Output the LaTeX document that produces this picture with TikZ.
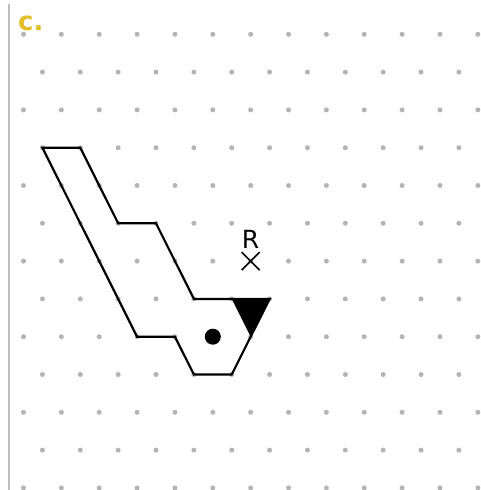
\documentclass[tikz,border=0pt]{standalone}
\usepackage{fontspec}
\setmainfont{DejaVu Sans}
\definecolor{griddot}{RGB}{180,180,180}
\definecolor{rulegray}{RGB}{190,190,190}
\definecolor{labelgold}{RGB}{228,189,43}
\tikzset{
  gdot/.style={fill=griddot, draw=none},
  outline/.style={draw=black, line width=2.2pt, line join=miter},
  mark cross/.style={draw=black, line width=1.5pt},
}
\begin{document}
\begin{tikzpicture}
\useasboundingbox (0pt,0pt) rectangle (480pt,-490pt);
\fill[white] (0pt,0pt) rectangle (480pt,-490pt);
\draw[rulegray, line width=2.4pt] (9pt,-4pt) -- (9pt,-490pt);
\node[anchor=base west, inner sep=0pt, text=labelgold, font=\fontsize{26}{26}\selectfont\bfseries] (lbl) at (18pt,-30pt) {c.};
\begin{scope}[shift={(23.5pt,-34.3pt)}, x=18.93pt, y=-37.8pt]
  \foreach \j in {0,...,12} {
    \foreach \i in {0,...,24} {
      \pgfmathtruncatemacro{\myparity}{mod(\i+\j,2)}
      \ifnum\myparity=0
        \fill[gdot] (\i,\j) circle[radius=2.5pt];
      \fi
    }
  }
  \coordinate (p1) at (1,3);
  \coordinate (p2) at (3,3);
  \coordinate (p3) at (5,5);
  \coordinate (p4) at (7,5);
  \coordinate (p5) at (9,7);
  \coordinate (p6) at (11,7);
  \coordinate (p7) at (13,7);
  \coordinate (p8) at (12,8);
  \coordinate (p9) at (11,9);
  \coordinate (p10) at (9,9);
  \coordinate (p11) at (8,8);
  \coordinate (p12) at (6,8);
  \fill[black] (p6) -- (p7) -- (p8) -- cycle;
  \draw[outline] (p1) -- (p2) -- (p3) -- (p4) -- (p5) -- (p7) -- (p8) -- (p9) -- (p10) -- (p11) -- (p12) -- cycle;
  \fill[black] (10,8) circle[radius=8pt];
  \coordinate (r) at (12,6);
  \draw[mark cross] ([shift={(-9pt,-9pt)}]r) -- ([shift={(9pt,9pt)}]r);
  \draw[mark cross] ([shift={(-9pt,9pt)}]r) -- ([shift={(9pt,-9pt)}]r);
  \node[anchor=base, inner sep=0pt, font=\fontsize{25}{25}\selectfont] (rlabel) at ([yshift=13pt]r) {R};
\end{scope}
\end{tikzpicture}
\end{document}
